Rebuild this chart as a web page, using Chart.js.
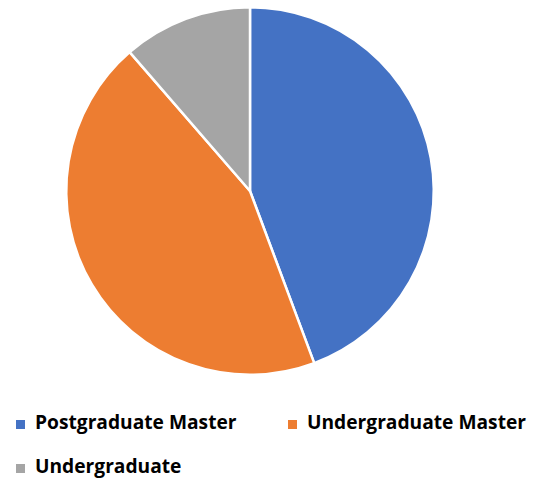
<!DOCTYPE html>
<html>
<head>
<meta charset="utf-8">
<script src="https://cdn.jsdelivr.net/npm/chart.js@4.4.1/dist/chart.umd.min.js"></script>
<style>
    body { margin: 0; background: #fff; }
    #wrap { position: relative; width: 553px; height: 390px; }
    #legend {
        position: absolute; left: 16px; top: 408px;
        display: grid; grid-template-columns: 272px auto; row-gap: 16px;
        font-family: "Open Sans", sans-serif; font-weight: bold; font-size: 19.2px; color: #000;
    }
    .item { display: flex; align-items: center; line-height: 28px; white-space: nowrap; }
    .box { width: 9px; height: 9px; margin-right: 10px; margin-top: 4px; }
</style>
</head>
<body>
<div id="wrap"><canvas id="chart"></canvas></div>
<div id="legend"></div>
<script>
const labels = ['Postgraduate Master', 'Undergraduate Master', 'Undergraduate'];
const counts = [39, 39, 10];
const colors = ['#4472C4', '#ED7D31', '#A5A5A5'];

const ctx = document.getElementById('chart').getContext('2d');
const chart = new Chart(ctx, {
    type: 'pie',
    data: {
        labels: labels,
        datasets: [{
            data: counts,
            backgroundColor: colors,
            borderColor: '#fff',
            borderWidth: 2.5
        }]
    },
    options: {
        responsive: true,
        maintainAspectRatio: false,
        animation: false,
        layout: { padding: { top: 6, bottom: 14, left: 0, right: 53 } },
        plugins: {
            legend: { display: false },
            tooltip: { enabled: false }
        }
    }
});

// legend drawn as html so the gaps can match the original
const legend = document.getElementById('legend');
labels.forEach((name, i) => {
    const item = document.createElement('div');
    item.className = 'item';
    item.innerHTML = `<span class="box" style="background:${colors[i]}"></span><span>${name}</span>`;
    legend.appendChild(item);
});
</script>
</body>
</html>
